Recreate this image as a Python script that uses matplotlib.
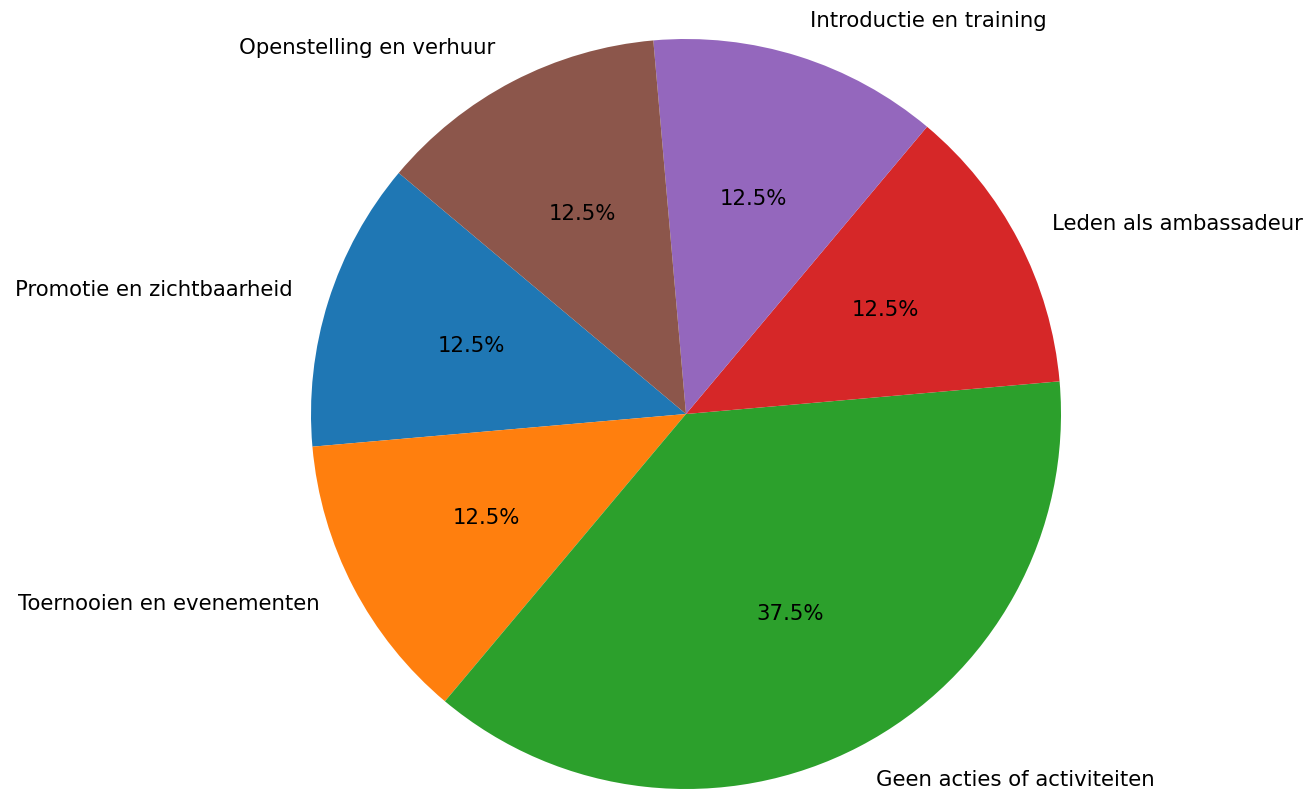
import matplotlib.pyplot as plt

labels = [
    "Promotie en zichtbaarheid",
    "Toernooien en evenementen",
    "Geen acties of activiteiten",
    "Leden als ambassadeur",
    "Introductie en training",
    "Openstelling en verhuur",
]
counts = [1, 1, 3, 1, 1, 1]

fig = plt.figure(figsize=(13.12, 7.92), dpi=100)
ax = fig.add_axes([0, 0, 1, 1])
ax.pie(
    counts,
    labels=labels,
    autopct="%1.1f%%",
    startangle=140,
    textprops={"fontsize": 15.3},
)
# 375 px per data unit, centre of the pie at (686, 378) px from bottom-left
scale = 375.0
ax.set_xlim(-686 / scale, (1312 - 686) / scale)
ax.set_ylim(-378 / scale, (792 - 378) / scale)
ax.set_aspect("auto")
ax.axis("off")

fig.savefig("out.png", dpi=100)
